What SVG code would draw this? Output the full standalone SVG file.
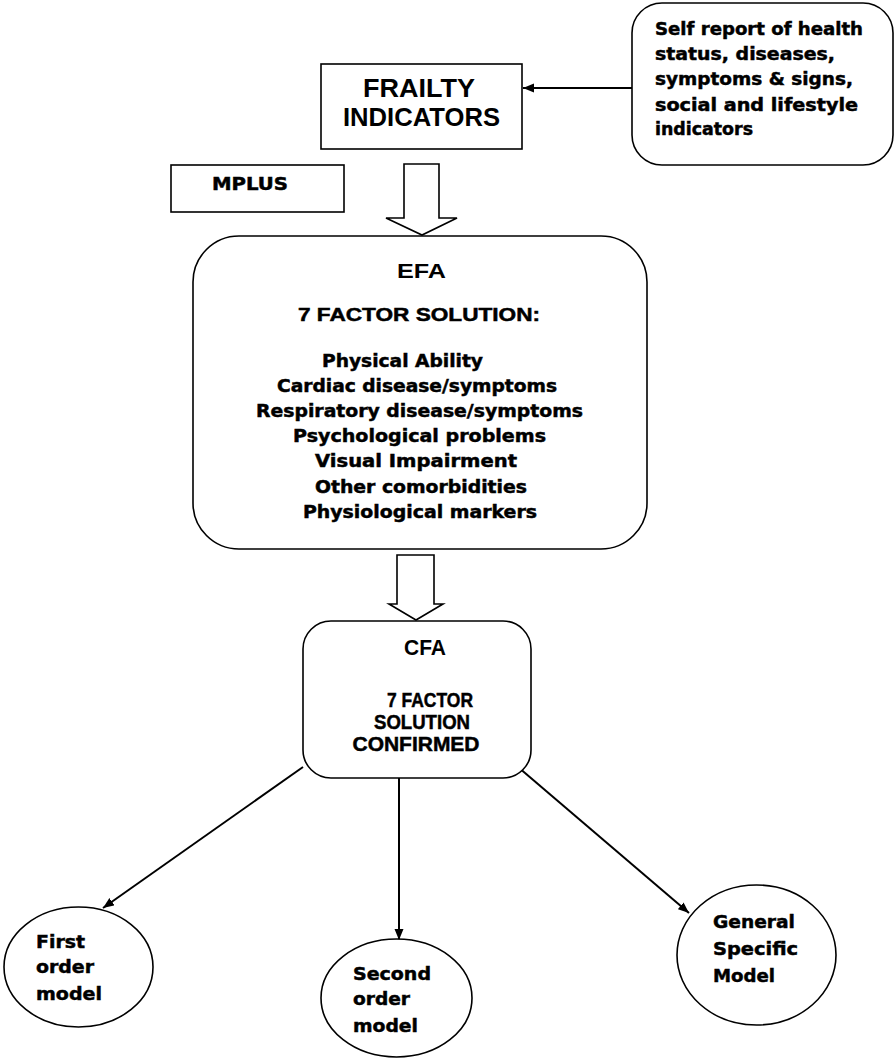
<svg xmlns="http://www.w3.org/2000/svg" width="896" height="1059" viewBox="0 0 896 1059">
<style>
.box{fill:#fff;stroke:#000;stroke-width:1.6}
.hollow{fill:#fff;stroke:#000;stroke-width:1.6;stroke-linejoin:miter}
.t{font-family:"Liberation Sans",Arial,sans-serif;font-weight:bold;fill:#000}
.tk{stroke:#000;stroke-width:0.5}
.h{font-family:"DejaVu Sans","Liberation Sans",sans-serif;font-weight:bold;fill:#000;stroke:#000;stroke-width:0.5}
.conn{stroke:#000;stroke-width:2;fill:none}
</style>
<defs>
<marker id="ah" markerUnits="userSpaceOnUse" markerWidth="12" markerHeight="10" refX="11" refY="4.5" orient="auto">
<path d="M0,0 L11,4.5 L0,9 z" fill="#000"/>
</marker>
</defs>
<rect width="896" height="1059" fill="#fff"/>

<g id="connectors">
<line class="conn" x1="632" y1="88" x2="523" y2="88" marker-end="url(#ah)"/>
<line class="conn" x1="303" y1="767" x2="103" y2="908" marker-end="url(#ah)"/>
<line class="conn" x1="399" y1="778" x2="399" y2="940" marker-end="url(#ah)"/>
<line class="conn" x1="518" y1="767" x2="689" y2="913" marker-end="url(#ah)"/>
<polygon class="hollow" points="404,164 439,164 439,218 457,218 422,235 386,218 404,218"/>
<polygon class="hollow" points="397,555 434,555 434,604 443,604 416,620 389,604 397,604"/>
</g>

<g id="frailty">
<rect class="box" x="321" y="64" width="201" height="85"/>
<text class="t" x="419" y="97" font-size="25" text-anchor="middle" textLength="112" lengthAdjust="spacingAndGlyphs">FRAILTY</text>
<text class="t" x="421.5" y="126" font-size="25" text-anchor="middle" textLength="157" lengthAdjust="spacingAndGlyphs">INDICATORS</text>
</g>

<g id="selfreport">
<rect class="box" x="632" y="3" width="261" height="162" rx="30" ry="30"/>
<text class="h" x="655" y="35" font-size="18" textLength="208" lengthAdjust="spacingAndGlyphs">Self report of health</text>
<text class="h" x="655" y="60" font-size="18" textLength="180" lengthAdjust="spacingAndGlyphs">status, diseases,</text>
<text class="h" x="655" y="85" font-size="18" textLength="198" lengthAdjust="spacingAndGlyphs">symptoms &amp; signs,</text>
<text class="h" x="655" y="111" font-size="18" textLength="203" lengthAdjust="spacingAndGlyphs">social and lifestyle</text>
<text class="h" x="655" y="135" font-size="18" textLength="98" lengthAdjust="spacingAndGlyphs">indicators</text>
</g>

<g id="mplus">
<rect class="box" x="171" y="165" width="173" height="47"/>
<text class="h" x="212" y="190" font-size="18" textLength="76" lengthAdjust="spacingAndGlyphs">MPLUS</text>
</g>

<g id="efa">
<rect class="box" x="193" y="236" width="454" height="313" rx="46" ry="46"/>
<text class="t" x="397" y="278" font-size="21" textLength="49" lengthAdjust="spacingAndGlyphs">EFA</text>
<text class="t tk" x="298" y="321" font-size="19" textLength="242" lengthAdjust="spacingAndGlyphs">7 FACTOR SOLUTION:</text>
<text class="h" x="322" y="367" font-size="18" textLength="161" lengthAdjust="spacingAndGlyphs">Physical Ability</text>
<text class="h" x="277" y="392" font-size="18" textLength="280" lengthAdjust="spacingAndGlyphs">Cardiac disease/symptoms</text>
<text class="h" x="256" y="417" font-size="18" textLength="327" lengthAdjust="spacingAndGlyphs">Respiratory disease/symptoms</text>
<text class="h" x="293" y="442" font-size="18" textLength="253" lengthAdjust="spacingAndGlyphs">Psychological problems</text>
<text class="h" x="315" y="467" font-size="18" textLength="202" lengthAdjust="spacingAndGlyphs">Visual Impairment</text>
<text class="h" x="315" y="493" font-size="18" textLength="212" lengthAdjust="spacingAndGlyphs">Other comorbidities</text>
<text class="h" x="303" y="518" font-size="18" textLength="234" lengthAdjust="spacingAndGlyphs">Physiological markers</text>
</g>

<g id="cfa">
<rect class="box" x="303" y="621" width="228" height="157" rx="28" ry="28"/>
<text class="t" x="425" y="655" font-size="22" text-anchor="middle" textLength="42" lengthAdjust="spacingAndGlyphs">CFA</text>
<text class="t tk" x="430" y="707" font-size="21" text-anchor="middle" textLength="86" lengthAdjust="spacingAndGlyphs">7 FACTOR</text>
<text class="t tk" x="422" y="729" font-size="21" text-anchor="middle" textLength="96" lengthAdjust="spacingAndGlyphs">SOLUTION</text>
<text class="t tk" x="416" y="751" font-size="21" text-anchor="middle" textLength="127" lengthAdjust="spacingAndGlyphs">CONFIRMED</text>
</g>

<g id="first">
<ellipse class="box" cx="78.5" cy="967" rx="74.5" ry="60"/>
<text class="h" x="36" y="948" font-size="18.5" textLength="49" lengthAdjust="spacingAndGlyphs">First</text>
<text class="h" x="36" y="973" font-size="18.5" textLength="58" lengthAdjust="spacingAndGlyphs">order</text>
<text class="h" x="36" y="1000" font-size="18.5" textLength="66" lengthAdjust="spacingAndGlyphs">model</text>
</g>

<g id="second">
<ellipse class="box" cx="396.5" cy="998" rx="75.5" ry="59"/>
<text class="h" x="353" y="980" font-size="18.5" textLength="78" lengthAdjust="spacingAndGlyphs">Second</text>
<text class="h" x="353" y="1005" font-size="18.5" textLength="57" lengthAdjust="spacingAndGlyphs">order</text>
<text class="h" x="353" y="1032" font-size="18.5" textLength="65" lengthAdjust="spacingAndGlyphs">model</text>
</g>

<g id="general">
<ellipse class="box" cx="756.5" cy="955" rx="79.5" ry="70"/>
<text class="h" x="713" y="928" font-size="18.5" textLength="82" lengthAdjust="spacingAndGlyphs">General</text>
<text class="h" x="713" y="955" font-size="18.5" textLength="85" lengthAdjust="spacingAndGlyphs">Specific</text>
<text class="h" x="713" y="982" font-size="18.5" textLength="62" lengthAdjust="spacingAndGlyphs">Model</text>
</g>
</svg>
